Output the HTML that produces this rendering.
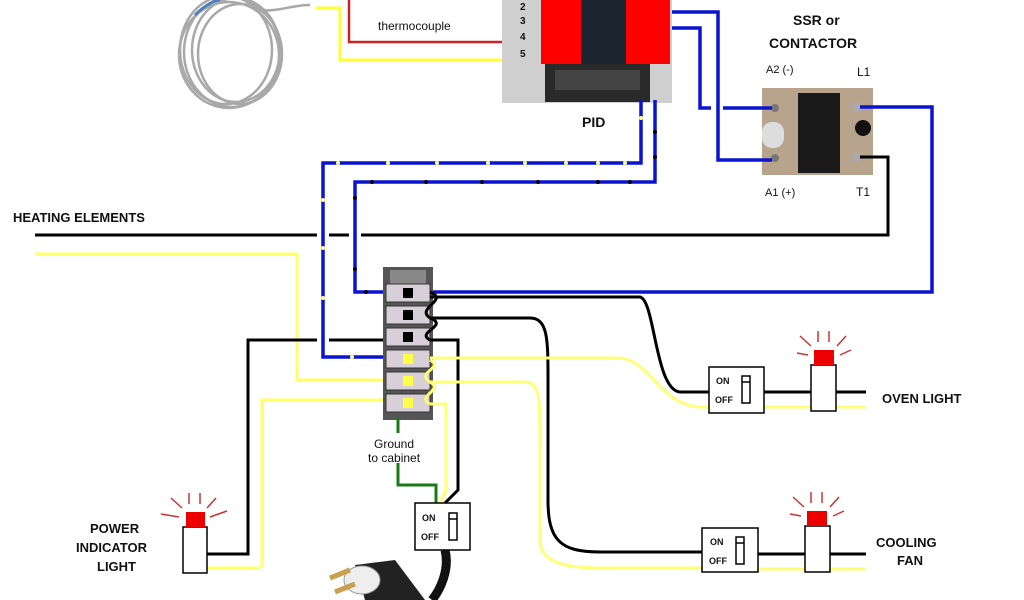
<!DOCTYPE html>
<html><head><meta charset="utf-8"><style>
html,body{margin:0;padding:0;background:#fff;width:1024px;height:600px;overflow:hidden}
svg{display:block}
text{font-family:"Liberation Sans",sans-serif;font-weight:bold;fill:#111}
</style></head><body>
<svg width="1024" height="600" viewBox="0 0 1024 600" xmlns="http://www.w3.org/2000/svg">
<!-- thermocouple coil -->
<g fill="none" stroke="#a8a8a8" stroke-width="2.5">
<ellipse cx="232" cy="52" rx="48" ry="55"/>
<ellipse cx="236" cy="50" rx="44" ry="52"/>
<ellipse cx="229" cy="55" rx="50" ry="53"/>
<ellipse cx="240" cy="54" rx="42" ry="50"/>
<ellipse cx="226" cy="50" rx="46" ry="54"/>
<path d="M250 0 C260 20 285 5 310 5"/>
</g>
<path d="M195 15 C205 5 215 0 220 0" stroke="#4a7fc0" stroke-width="3" fill="none"/>
<!-- thermocouple wires -->
<path d="M316 8 H340 V60 H522" stroke="#ffff33" stroke-width="3" fill="none"/>
<path d="M349 0 V42 H522" stroke="#cc2222" stroke-width="2.5" fill="none"/>
<text x="378" y="30" font-size="12" style="font-weight:normal">thermocouple</text>
<!-- PID -->
<rect x="502" y="0" width="170" height="103" fill="#cfcfcf"/>
<rect x="545" y="60" width="105" height="42" fill="#2a2a2a"/>
<rect x="555" y="70" width="85" height="20" fill="#444"/>
<rect x="581" y="0" width="45" height="64" fill="#1c2430"/>
<rect x="541" y="0" width="40" height="64" fill="#ff0000"/>
<rect x="626" y="0" width="44" height="64" fill="#ff0000"/>
<text x="520" y="10" font-size="10">2</text>
<text x="520" y="24" font-size="10">3</text>
<text x="520" y="40" font-size="10">4</text>
<text x="520" y="57" font-size="10">5</text>
<text x="582" y="127" font-size="14">PID</text>
<!-- SSR -->
<text x="793" y="25" font-size="14">SSR or</text>
<text x="769" y="48" font-size="14">CONTACTOR</text>
<text x="766" y="73" font-size="11" style="font-weight:normal">A2 (-)</text>
<text x="857" y="76" font-size="12" style="font-weight:normal">L1</text>
<text x="765" y="196" font-size="11" style="font-weight:normal">A1 (+)</text>
<text x="856" y="196" font-size="12" style="font-weight:normal">T1</text>
<rect x="762" y="88" width="111" height="87" fill="#b8a48c"/>
<rect x="798" y="93" width="42" height="80" fill="#1a1a1a"/>
<circle cx="863" cy="128" r="8" fill="#111"/>
<rect x="762" y="122" width="22" height="26" rx="10" fill="#ddd"/>
<circle cx="775" cy="108" r="4" fill="#777"/><circle cx="775" cy="158" r="4" fill="#777"/>
<circle cx="857" cy="107" r="5" fill="#aaa"/><circle cx="857" cy="157" r="5" fill="#aaa"/>
<!-- blue wires -->
<g stroke="#0a14d0" stroke-width="3.5" fill="none">
<path d="M672 12 H718 V160 H772"/>
<path d="M672 28 H700 V108 H711"/>
<path d="M723 108 H772"/>
<path d="M860 107 H932 V292 H432"/>
<path d="M641 100 V163 H323 V357 H385"/>
<path d="M655 100 V182 H355 V292 H385"/>
</g>
<g fill="#ffff88"><circle cx="641" cy="118" r="2"/><circle cx="338" cy="163" r="2"/><circle cx="388" cy="163" r="2"/><circle cx="437" cy="163" r="2"/><circle cx="488" cy="163" r="2"/><circle cx="525" cy="163" r="2"/><circle cx="566" cy="163" r="2"/><circle cx="598" cy="163" r="2"/><circle cx="625" cy="163" r="2"/><circle cx="323" cy="200" r="2"/><circle cx="323" cy="248" r="2"/><circle cx="323" cy="298" r="2"/><circle cx="352" cy="357" r="2"/></g>
<g fill="#000"><circle cx="655" cy="132" r="2"/><circle cx="655" cy="157" r="2"/><circle cx="372" cy="182" r="2"/><circle cx="426" cy="182" r="2"/><circle cx="482" cy="182" r="2"/><circle cx="538" cy="182" r="2"/><circle cx="598" cy="182" r="2"/><circle cx="630" cy="182" r="2"/><circle cx="355" cy="198" r="2"/><circle cx="355" cy="269" r="2"/><circle cx="366" cy="292" r="2"/></g>
<!-- heating elements -->
<text x="13" y="222" font-size="13">HEATING ELEMENTS</text>
<path d="M35 235 H317 M329 235 H349 M361 235 H888 V157 H860" stroke="#000" stroke-width="3" fill="none"/>
<path d="M35 254 H297 V380 H385" stroke="#ffff66" stroke-width="3" fill="none"/>
<path d="M260 568 H207 M262 568 V400 H385" stroke="#ffff66" stroke-width="3" fill="none"/>
<path d="M207 554 H248 V340 H317 M329 340 H385" stroke="#000" stroke-width="3" fill="none"/>
<!-- terminal strip -->
<rect x="383" y="267" width="50" height="153" fill="#555"/>
<rect x="390" y="270" width="36" height="14" fill="#888"/>
<g fill="#d8d0d8" stroke="#333" stroke-width="1">
<rect x="386" y="284" width="44" height="18"/><rect x="386" y="306" width="44" height="18"/><rect x="386" y="328" width="44" height="18"/><rect x="386" y="350" width="44" height="18"/><rect x="386" y="372" width="44" height="18"/><rect x="386" y="394" width="44" height="18"/>
</g>
<g fill="#000"><rect x="403" y="288" width="10" height="10"/><rect x="403" y="310" width="10" height="10"/><rect x="403" y="332" width="10" height="10"/></g>
<g fill="#ffff44"><rect x="403" y="354" width="10" height="10"/><rect x="403" y="376" width="10" height="10"/><rect x="403" y="398" width="10" height="10"/></g>
<!-- right side wires -->
<g stroke="#000" stroke-width="3" fill="none">
<path d="M430 297 H640 C655 300 655 390 680 392 H709"/>
<path d="M430 318 H530 C548 318 548 340 548 380 V500 C548 540 560 552 600 552 H702"/>
<path d="M430 340 H458 V490 L445 503"/>
<path d="M430 292 C450 300 415 308 430 318 C450 326 415 332 430 340"/>
<path d="M764 392 H811 M836 392 H866"/>
<path d="M758 554 H805 M830 554 H866"/>
</g>
<g stroke="#ffff77" stroke-width="3" fill="none">
<path d="M430 358 H620 C650 360 660 405 700 407 H709"/>
<path d="M430 382 H525 C540 382 540 400 540 440 V540 C540 560 560 568 600 568 H702"/>
<path d="M430 404 H446 V490 L440 503"/>
<path d="M764 407 H811 M836 407 H866 M758 569 H805 M830 569 H866"/>
<path d="M430 360 C445 368 415 372 430 382 C445 390 415 396 430 404"/>
</g>
<!-- ground -->
<path d="M398 417 V433 M398 463 V485 H436 V503" stroke="#1a7a1a" stroke-width="3" fill="none"/>
<text x="374" y="448" font-size="12" style="font-weight:normal">Ground</text>
<text x="368" y="462" font-size="12" style="font-weight:normal">to cabinet</text>
<!-- main switch + plug -->
<path d="M445 550 C450 570 440 590 432 600" stroke="#111" stroke-width="9" fill="none"/>
<path d="M355 565 L395 560 L425 600 H365 Z" fill="#222"/>
<ellipse cx="362" cy="580" rx="18" ry="14" fill="#eee" stroke="#999"/>
<path d="M330 578 L350 570 M335 592 L355 584" stroke="#c8a050" stroke-width="5"/>
<g stroke="#000" stroke-width="1.5" fill="#fff">
<rect x="415" y="503" width="55" height="47"/>
<rect x="449" y="513" width="8" height="27"/>
<rect x="709" y="367" width="55" height="46"/><rect x="742" y="376" width="8" height="27"/>
<rect x="702" y="528" width="56" height="44"/><rect x="736" y="537" width="8" height="27"/>
<rect x="811" y="365" width="25" height="46"/>
<rect x="805" y="526" width="25" height="46"/>
<rect x="183" y="527" width="24" height="46"/>
</g>
<g stroke="#000" stroke-width="1.5"><line x1="449" y1="519" x2="457" y2="519"/><line x1="742" y1="382" x2="750" y2="382"/><line x1="736" y1="543" x2="744" y2="543"/></g>
<g>
<text x="422" y="521" font-size="9">ON</text><text x="421" y="540" font-size="9">OFF</text>
<text x="716" y="384" font-size="9">ON</text><text x="715" y="403" font-size="9">OFF</text>
<text x="710" y="545" font-size="9">ON</text><text x="709" y="564" font-size="9">OFF</text>
</g>
<!-- lights caps + rays -->
<g fill="#ee0000"><rect x="814" y="350" width="20" height="15"/><rect x="807" y="511" width="20" height="15"/><rect x="186" y="512" width="19" height="15"/></g>
<g stroke="#cc3333" stroke-width="1.5">
<path d="M818 342 L818 331 M829 342 L829 331 M811 346 L800 336 M837 346 L846 336 M808 355 L797 353 M840 355 L851 350"/>
<path d="M811 503 L811 492 M822 503 L822 492 M804 507 L793 497 M830 507 L839 497 M801 516 L790 514 M833 516 L844 511"/>
<path d="M189 504 L189 493 M200 504 L200 493 M182 508 L171 498 M207 508 L216 498 M179 517 L161 514 M210 517 L227 511"/>
</g>
<text x="882" y="403" font-size="13">OVEN LIGHT</text>
<text x="876" y="547" font-size="13">COOLING</text>
<text x="897" y="565" font-size="13">FAN</text>
<text x="90" y="533" font-size="13">POWER</text>
<text x="76" y="552" font-size="13">INDICATOR</text>
<text x="97" y="571" font-size="13">LIGHT</text>
</svg>
</body></html>
